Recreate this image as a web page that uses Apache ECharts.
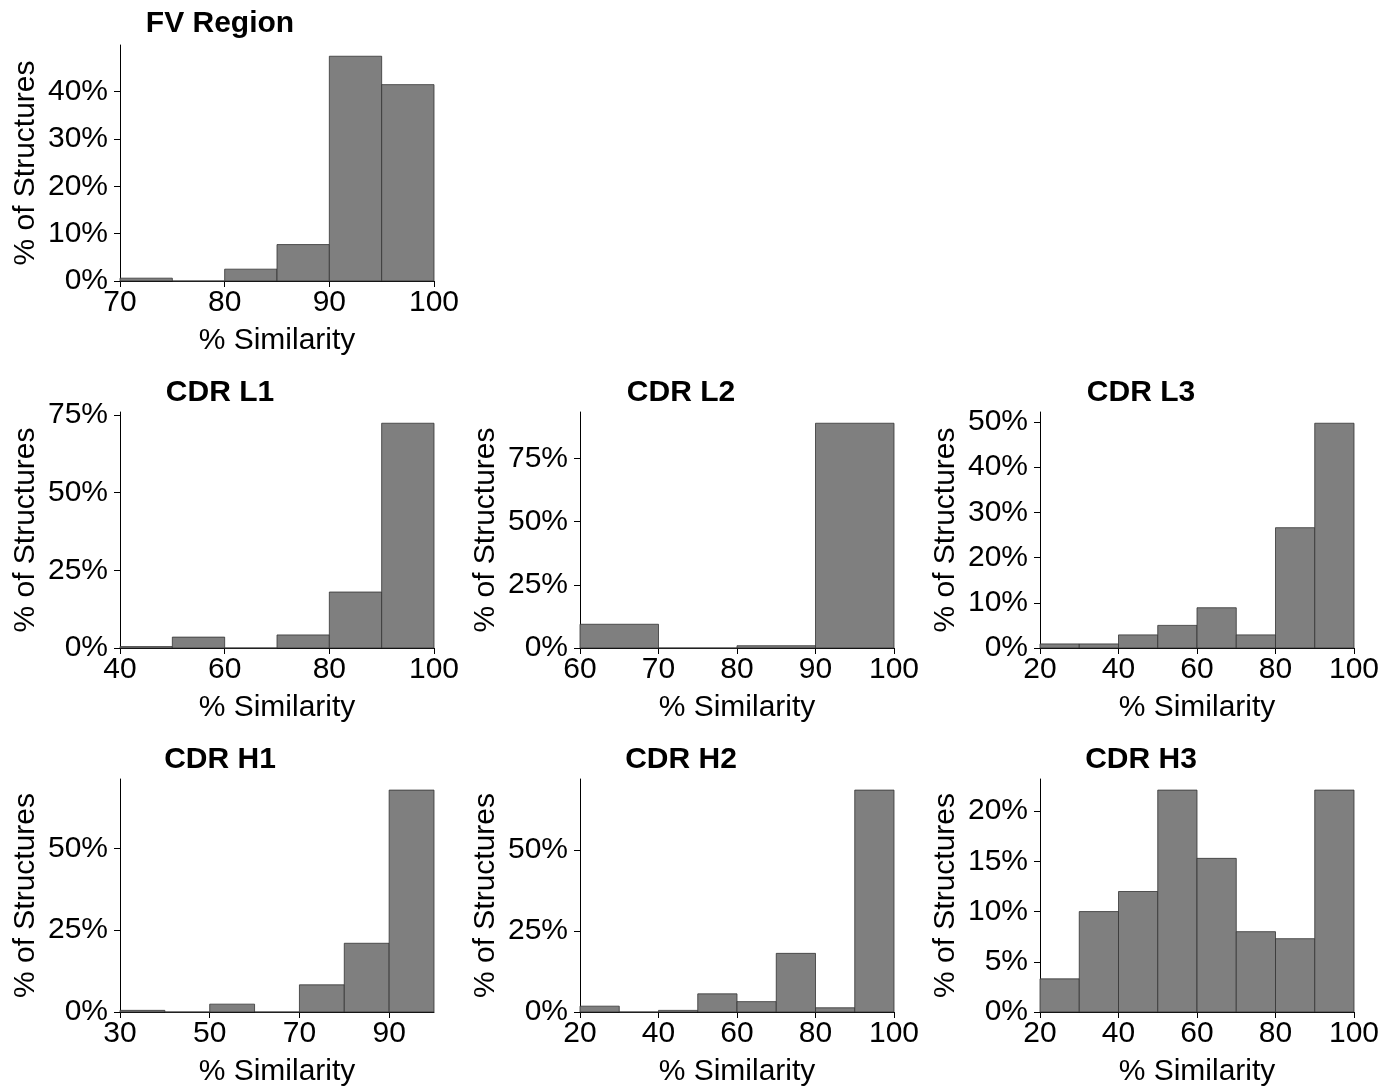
<!DOCTYPE html>
<html>
<head>
<meta charset="utf-8">
<script src="https://cdn.jsdelivr.net/npm/echarts@6/dist/echarts.min.js"></script>
<style>
  html, body { margin: 0; padding: 0; background: #fff; }
  #chartDoms { width: 1396px; height: 1088px; }
</style>
</head>
<body>
<div id="chartDoms"></div>
<script>
// bin edges and % of structures per panel
const fvEdges = [70, 75, 80, 85, 90, 95, 100];
const fvPct = [0.6, 0, 2.5, 7.7, 47.5, 41.5];
const l1Edges = [40, 50, 60, 70, 80, 90, 100];
const l1Pct = [0.45, 3.5, 0, 4.2, 18.0, 72.3];
const l2Edges = [60, 70, 80, 90, 100];
const l2Pct = [9.4, 0, 0.9, 89.0];
const l3Edges = [20, 30, 40, 50, 60, 70, 80, 90, 100];
const l3Pct = [0.9, 0.9, 2.9, 5.0, 8.9, 2.9, 26.6, 49.7];
const h1Edges = [30, 40, 50, 60, 70, 80, 90, 100];
const h1Pct = [0.5, 0, 2.4, 0, 8.3, 21.0, 67.8];
const h2Edges = [20, 30, 40, 50, 60, 70, 80, 90, 100];
const h2Pct = [1.8, 0, 0.5, 5.6, 3.2, 18.1, 1.3, 68.5];
const h3Edges = [20, 30, 40, 50, 60, 70, 80, 90, 100];
const h3Pct = [3.3, 10.0, 12.0, 22.1, 15.3, 8.0, 7.3, 22.1];

// tick labels
const fvXTicks = [70, 80, 90, 100];
const fvYTicks = [0, 10, 20, 30, 40];
const l1XTicks = [40, 60, 80, 100];
const l1YTicks = [0, 25, 50, 75];
const l2XTicks = [60, 70, 80, 90, 100];
const l2YTicks = [0, 25, 50, 75];
const l3XTicks = [20, 40, 60, 80, 100];
const l3YTicks = [0, 10, 20, 30, 40, 50];
const h1XTicks = [30, 50, 70, 90];
const h1YTicks = [0, 25, 50];
const h2XTicks = [20, 40, 60, 80, 100];
const h2YTicks = [0, 25, 50];
const h3XTicks = [20, 40, 60, 80, 100];
const h3YTicks = [0, 5, 10, 15, 20];

const titles = ["FV Region", "CDR L1", "CDR L2", "CDR L3", "CDR H1", "CDR H2", "CDR H3"];

const FONT = "'Liberation Sans', Arial, sans-serif";
const FS = 30;

// panel layout: column / row in pixels
const colLeft = [120, 580, 1040];
const rowTop = [45, 412, 779];
const rowH = [236, 236, 237];
const panelW = 314;
const titleX = [220, 681, 1141];
const titleY = [23, 392, 759];

const panels = [
  { edges: fvEdges, pct: fvPct, xt: fvXTicks, yt: fvYTicks, col: 0, row: 0 },
  { edges: l1Edges, pct: l1Pct, xt: l1XTicks, yt: l1YTicks, col: 0, row: 1 },
  { edges: l2Edges, pct: l2Pct, xt: l2XTicks, yt: l2YTicks, col: 1, row: 1 },
  { edges: l3Edges, pct: l3Pct, xt: l3XTicks, yt: l3YTicks, col: 2, row: 1 },
  { edges: h1Edges, pct: h1Pct, xt: h1XTicks, yt: h1YTicks, col: 0, row: 2 },
  { edges: h2Edges, pct: h2Pct, xt: h2XTicks, yt: h2YTicks, col: 1, row: 2 },
  { edges: h3Edges, pct: h3Pct, xt: h3XTicks, yt: h3YTicks, col: 2, row: 2 },
];

const myChart = echarts.init(document.getElementById("chartDoms"), null, { renderer: "canvas" });

const axisLine = { show: true, lineStyle: { color: "#000", width: 1 } };
const tickStyle = { color: "#000", width: 1 };

const grid = [], xAxis = [], yAxis = [], series = [], title = [];

panels.forEach(function (p, i) {
  grid.push({
    left: colLeft[p.col],
    top: rowTop[p.row],
    width: panelW,
    height: rowH[p.row],
    containLabel: false,
  });
  title.push({
    text: titles[i],
    left: titleX[p.col],
    top: titleY[p.row] - 14,
    textAlign: "center",
    padding: 0,
    textStyle: { fontFamily: FONT, fontSize: FS, fontWeight: "bold", color: "#000" },
  });
  xAxis.push({
    type: "value",
    gridIndex: i,
    min: p.edges[0],
    max: p.edges[p.edges.length - 1],
    name: "% Similarity",
    nameLocation: "middle",
    nameGap: 45,
    nameTextStyle: { fontFamily: FONT, fontSize: FS, color: "#000" },
    axisLine: axisLine,
    axisTick: { show: true, length: 6, lineStyle: tickStyle, customValues: p.xt },
    axisLabel: { fontFamily: FONT, fontSize: FS, color: "#000", margin: 7, customValues: p.xt },
    splitLine: { show: false },
  });
  const ymax = Math.max.apply(null, p.pct) * 1.05;
  yAxis.push({
    type: "value",
    gridIndex: i,
    min: 0,
    max: ymax,
    name: "% of Structures",
    nameLocation: "middle",
    nameGap: 79,
    nameTextStyle: { fontFamily: FONT, fontSize: FS, color: "#000" },
    axisLine: axisLine,
    axisTick: { show: true, length: 6, lineStyle: tickStyle, customValues: p.yt },
    axisLabel: {
      fontFamily: FONT, fontSize: FS, color: "#000", margin: 12,
      customValues: p.yt,
      formatter: function (v) { return v + "%"; },
    },
    splitLine: { show: false },
  });
  const data = p.pct.map(function (v, k) { return [p.edges[k], p.edges[k + 1], v]; });
  series.push({
    type: "custom",
    xAxisIndex: i,
    yAxisIndex: i,
    data: data,
    encode: { x: [0, 1], y: 2 },
    z: 1,
    renderItem: function (params, api) {
      const a = api.coord([api.value(0), api.value(2)]);
      const b = api.coord([api.value(1), 0]);
      return {
        type: "rect",
        shape: { x: a[0], y: a[1], width: b[0] - a[0], height: b[1] - a[1] },
        style: { fill: "#7f7f7f", stroke: "#333333", lineWidth: 0.8 },
      };
    },
  });
});

myChart.setOption({
  animation: false,
  backgroundColor: "#fff",
  title: title,
  grid: grid,
  xAxis: xAxis,
  yAxis: yAxis,
  series: series,
});
</script>
</body>
</html>
